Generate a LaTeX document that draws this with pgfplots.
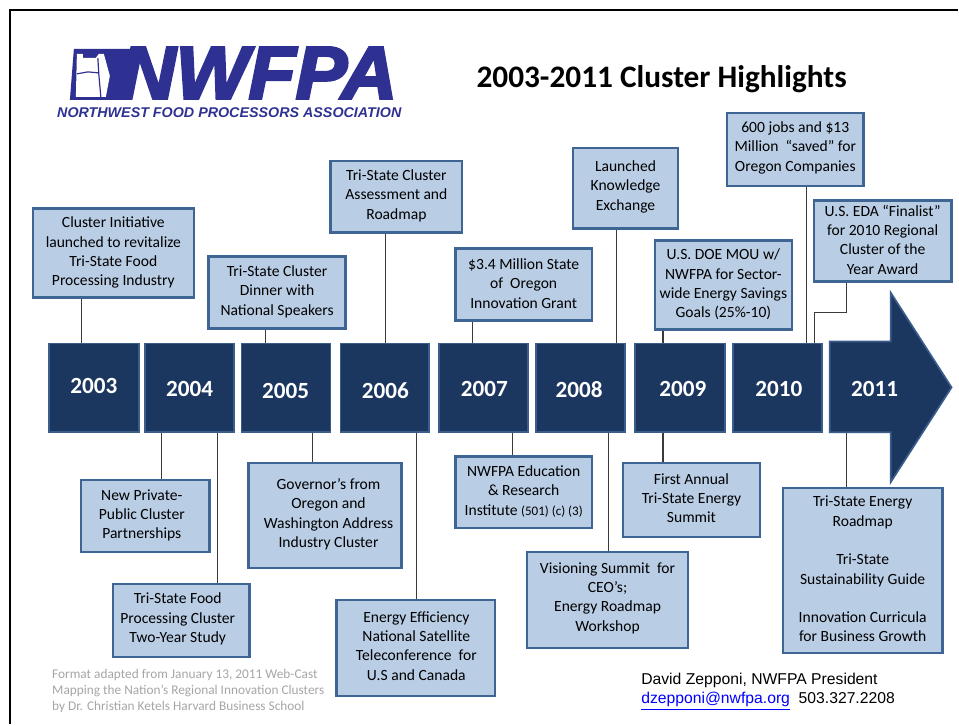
\documentclass[border=0pt]{standalone}
\usepackage{pgfplots}
\pgfplotsset{compat=1.18}
\usepackage{graphicx}
\usepackage{fontspec}
\setmainfont{Carlito}
\newfontfamily\arial{Liberation Sans}
\newfontfamily\logofont[BoldItalicFeatures={FakeBold=3.5}]{Liberation Sans}
\definecolor{navy}{HTML}{1B365F}
\definecolor{navyedge}{HTML}{3A5D8B}
\definecolor{boxfill}{HTML}{B9CDE5}
\definecolor{boxedge}{HTML}{3F6594}
\definecolor{logoblue}{HTML}{2E3192}
\definecolor{linkblue}{HTML}{0000FF}
\definecolor{footgray}{HTML}{A6A6A6}
\definecolor{conn}{HTML}{3A3A3A}
\newcommand{\boxfont}{\fontsize{11.7pt}{14.5pt}\selectfont}
\newcommand{\yearfont}{\fontsize{17.4pt}{20pt}\selectfont\bfseries}
\newcommand{\yearbox}[2]{\addplot[fill=navy,draw=navyedge,line width=1.3pt] coordinates {(#1,344) (#2,344) (#2,433) (#1,433)} -- cycle;}
\newcommand{\tbox}[4]{\addplot[fill=boxfill,draw=boxedge,line width=1.8pt] coordinates {(#1,#2) (#3,#2) (#3,#4) (#1,#4)} -- cycle;}
\begin{document}
\begin{tikzpicture}
\begin{axis}[scale only axis, width=719.25pt, height=543.75pt,
  xmin=0, xmax=959, ymin=0, ymax=725, y dir=reverse,
  hide axis, clip=false]
% background
\addplot[fill=white,draw=none] coordinates {(0,0) (959,0) (959,725) (0,725)} -- cycle;
% frame
\addplot[black,line width=2.2pt] coordinates {(10,725) (10,10) (959,10)};
% logo
\addplot[fill=logoblue,draw=none] coordinates {(74,49) (136,49) (123,100) (70,100)} -- cycle;
\addplot[fill=white,draw=none] coordinates {(77,54) (83,54) (83,58) (96,58) (99,54) (104,54) (110,76) (106,97) (76,97)} -- cycle;
\addplot[logoblue,line width=0.9pt] coordinates {(77,74) (88,72) (99,73)};
\addplot[logoblue,line width=0.9pt] coordinates {(98,58) (99,75) (101,97)};
\node[anchor=south west,inner sep=0pt,text=logoblue] at (axis cs:120,99) {\resizebox{208pt}{38.5pt}{\logofont\bfseries\itshape NWFPA}};
\node[anchor=south west,inner sep=0pt,text=logoblue] at (axis cs:57,118.5) {\resizebox{258.5pt}{7.4pt}{\arial\bfseries\itshape NORTHWEST FOOD PROCESSORS ASSOCIATION}};
% title
\node[anchor=base west,inner sep=0pt] at (axis cs:477,88) {\fontsize{23.5pt}{28pt}\selectfont\bfseries 2003-2011 Cluster Highlights};
% connectors
\addplot[conn,line width=0.8pt] coordinates {(82,298) (82,344)};
\addplot[conn,line width=0.8pt] coordinates {(266,329) (266,344)};
\addplot[conn,line width=0.8pt] coordinates {(386,233) (386,344)};
\addplot[conn,line width=0.8pt] coordinates {(473,321) (473,344)};
\addplot[conn,line width=0.8pt] coordinates {(617,229) (617,344)};
\addplot[conn,line width=0.8pt] coordinates {(664,330) (664,344)};
\addplot[conn,line width=0.8pt] coordinates {(808,186) (808,344)};
\addplot[conn,line width=0.8pt] coordinates {(848,282) (848,313) (816,313) (816,344)};
\addplot[conn,line width=0.8pt] coordinates {(162,433) (162,481)};
\addplot[conn,line width=0.8pt] coordinates {(218,433) (218,585)};
\addplot[conn,line width=0.8pt] coordinates {(313,433) (313,464)};
\addplot[conn,line width=0.8pt] coordinates {(417,433) (417,601)};
\addplot[conn,line width=0.8pt] coordinates {(513,433) (513,457)};
\addplot[conn,line width=0.8pt] coordinates {(609,433) (609,553)};
\addplot[conn,line width=0.8pt] coordinates {(664,433) (664,464)};
\addplot[conn,line width=0.8pt] coordinates {(848,433) (848,489)};
% year boxes
\yearbox{49}{139}
\yearbox{145}{234}
\yearbox{242}{331}
\yearbox{341}{430}
\yearbox{440}{529}
\yearbox{537}{626}
\yearbox{636}{726}
\yearbox{734}{823}
\addplot[fill=navy,draw=navyedge,line width=1.3pt] coordinates {(831,342) (892,342) (892,293) (953,388) (892,483) (892,433) (831,433)} -- cycle;
\node[text=white,font=\yearfont] at (axis cs:94,387) {2003};
\node[text=white,font=\yearfont] at (axis cs:190,390) {2004};
\node[text=white,font=\yearfont] at (axis cs:286,392) {2005};
\node[text=white,font=\yearfont] at (axis cs:386,391) {2006};
\node[text=white,font=\yearfont] at (axis cs:485,390) {2007};
\node[text=white,font=\yearfont] at (axis cs:580,390) {2008};
\node[text=white,font=\yearfont] at (axis cs:684,390) {2009};
\node[text=white,font=\yearfont] at (axis cs:780,390) {2010};
\node[text=white,font=\yearfont] at (axis cs:876,390) {2011};
% top boxes
\tbox{33}{209}{194}{298}
\node[font=\boxfont,align=center] at (axis cs:113.5,253) {Cluster Initiative\\launched to revitalize\\Tri-State Food\\Processing Industry};
\tbox{209}{257}{346}{329}
\node[font=\boxfont,align=center] at (axis cs:277.5,292) {Tri-State Cluster\\Dinner with\\National Speakers};
\tbox{331}{161}{463}{233}
\node[font=\boxfont,align=center] at (axis cs:397,196) {Tri-State Cluster\\Assessment and\\Roadmap};
\tbox{456}{249}{593}{321}
\node[font=\boxfont,align=center] at (axis cs:524.5,284) {\$3.4 Million State\\of\ \ Oregon\\Innovation Grant};
\tbox{574}{148}{679}{229}
\node[font=\boxfont,align=center] at (axis cs:626.5,187) {Launched\\Knowledge\\Exchange};
\tbox{656}{241}{793}{330}
\node[font=\boxfont,align=center] at (axis cs:724.5,285) {U.S. DOE MOU w/\\NWFPA for Sector-\\wide Energy Savings\\Goals (25\%-10)};
\tbox{728}{113}{865}{186}
\node[font=\boxfont,align=center] at (axis cs:796.5,148) {600 jobs and \$13\\Million\ \ “saved” for\\Oregon Companies};
\tbox{815}{201}{953}{282}
\node[font=\boxfont,align=center] at (axis cs:884,240) {U.S. EDA “Finalist”\\for 2010 Regional\\Cluster of the\\Year Award};
% bottom boxes
\tbox{81}{481}{210}{553}
\node[font=\boxfont,align=center] at (axis cs:142,516) {New Private-\\Public Cluster\\Partnerships};
\tbox{113}{585}{250}{658}
\node[font=\boxfont,align=center] at (axis cs:178,620) {Tri-State Food\\Processing Cluster\\Two-Year Study};
\tbox{249}{464}{402}{569}
\node[font=\boxfont,align=center] at (axis cs:329,515) {Governor’s from\\Oregon and\\Washington Address\\Industry Cluster};
\tbox{337}{601}{496}{697}
\node[font=\boxfont,align=center] at (axis cs:417,647) {Energy Efficiency\\National Satellite\\Teleconference\ \ for\\U.S and Canada};
\tbox{456}{457}{593}{529}
\node[font=\boxfont,align=center] at (axis cs:524.5,492) {NWFPA Education\\\& Research\\Institute {\fontsize{9.8pt}{12pt}\selectfont (501) (c) (3)}};
\tbox{528}{553}{689}{649}
\node[font=\boxfont,align=center] at (axis cs:608.5,599) {Visioning Summit\ \ for\\CEO’s;\\Energy Roadmap\\Workshop};
\tbox{624}{464}{761}{538}
\node[font=\boxfont,align=center] at (axis cs:692.5,499) {First Annual\\Tri-State Energy\\Summit};
\tbox{784}{489}{944}{654}
\node[font=\boxfont,align=center] at (axis cs:864,570) {Tri-State Energy\\Roadmap\\[14.5pt]Tri-State\\Sustainability Guide\\[14.5pt]Innovation Curricula\\for Business Growth};
% footnote
\node[anchor=base west,inner sep=0pt,text=footgray,font=\fontsize{10pt}{12pt}\selectfont] at (axis cs:52,680) {Format adapted from January 13, 2011 Web-Cast};
\node[anchor=base west,inner sep=0pt,text=footgray,font=\fontsize{10pt}{12pt}\selectfont] at (axis cs:52,696) {Mapping the Nation’s Regional Innovation Clusters};
\node[anchor=base west,inner sep=0pt,text=footgray,font=\fontsize{10pt}{12pt}\selectfont] at (axis cs:52,712) {by Dr. Christian Ketels Harvard Business School};
% contact
\node[anchor=base west,inner sep=0pt,font=\arial\fontsize{11.8pt}{14pt}\selectfont] at (axis cs:642,686) {David Zepponi, NWFPA President};
\node[anchor=base west,inner sep=0pt,font=\arial\fontsize{11.8pt}{14pt}\selectfont] at (axis cs:642,705) {\textcolor{linkblue}{\underline{dzepponi@nwfpa.org}}\ \ 503.327.2208};
\end{axis}
\end{tikzpicture}
\end{document}
